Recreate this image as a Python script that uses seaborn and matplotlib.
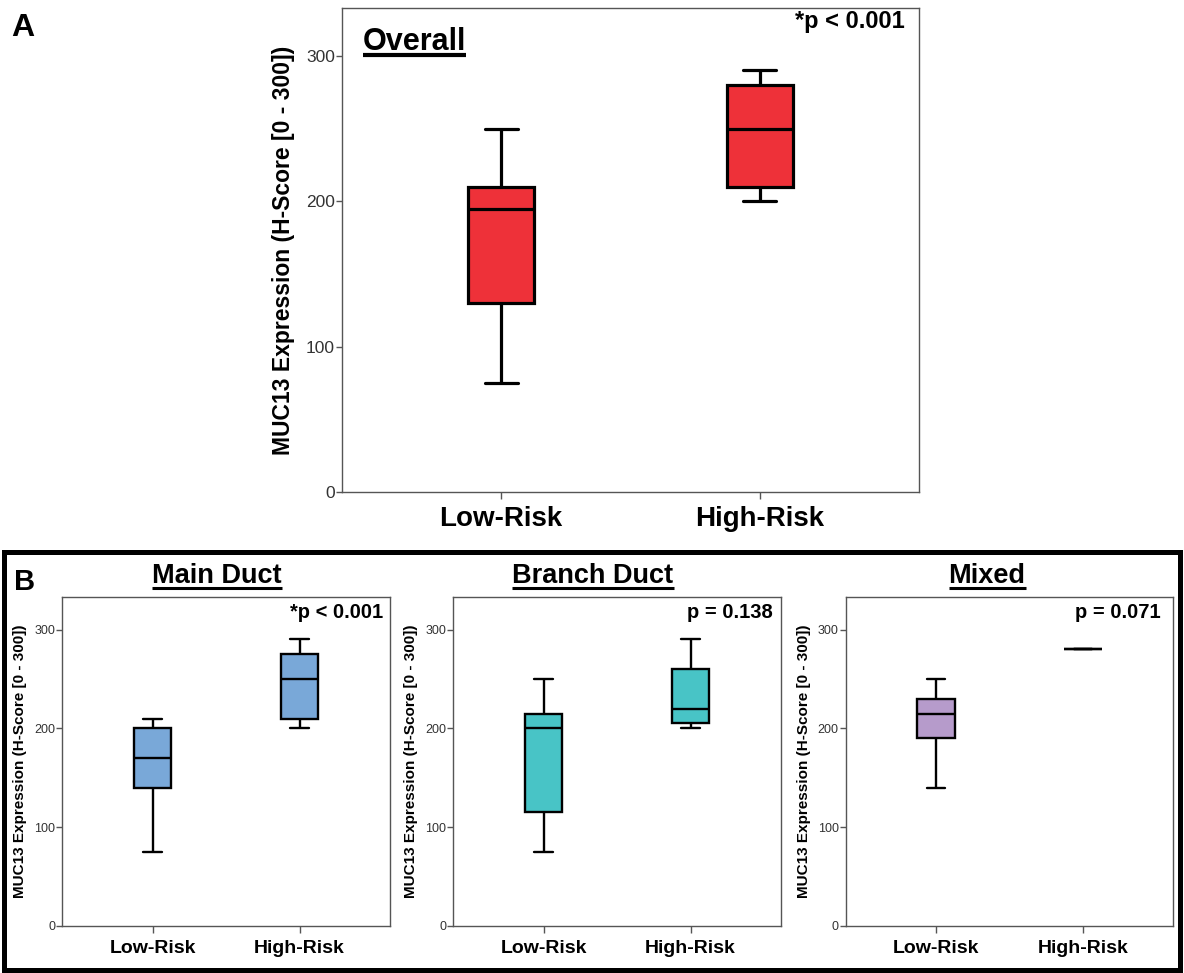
import numpy as np
import pandas as pd
import matplotlib
matplotlib.use("Agg")
import matplotlib.pyplot as plt
from matplotlib.lines import Line2D
from matplotlib.patches import Rectangle
import seaborn as sns

# ---------------- data (five-number summaries) ----------------
categories = ["Low-Risk", "High-Risk"]

overall_low = [75, 130, 195, 210, 250]
overall_high = [200, 210, 250, 280, 290]

main_low = [75, 140, 170, 200, 210]
main_high = [200, 210, 250, 275, 290]

branch_low = [75, 115, 200, 215, 250]
branch_high = [200, 205, 220, 260, 290]

mixed_low = [140, 190, 215, 230, 250]
mixed_high = [280, 280, 280, 280, 280]

panel_titles = ["Main Duct", "Branch Duct", "Mixed"]
p_overall = "*p < 0.001"
p_texts = ["*p < 0.001", "p = 0.138", "p = 0.071"]
yticks = [0, 100, 200, 300]
ylabel = "MUC13 Expression (H-Score [0 - 300])"

colors = {"overall": "#EE3139", "main": "#79A8D8", "branch": "#48C4C6", "mixed": "#B69BCB"}

# ---------------- style ----------------
sns.set_style("white")
plt.rcParams["font.family"] = ["Liberation Sans", "DejaVu Sans"]
plt.rcParams["text.color"] = "black"
plt.rcParams["axes.labelcolor"] = "black"

W, H = 1184, 973
fig = plt.figure(figsize=(W / 100, H / 100), dpi=100)


def px_rect(l, r, t, b):
    return [l / W, 1 - b / H, (r - l) / W, (b - t) / H]


def make_df(low, high):
    return pd.DataFrame({
        "risk": [categories[0]] * len(low) + [categories[1]] * len(high),
        "score": list(low) + list(high),
    })


def draw_box(ax, low, high, color, lw, tick_fs, xt_fs, yl_fs, labelpad):
    df = make_df(low, high)
    sns.boxplot(data=df, x="risk", y="score", order=categories, color=color,
                saturation=1, width=0.255, whis=(0, 100), linewidth=lw,
                linecolor="black", fliersize=0, ax=ax)
    ax.set_xlim(-0.614, 1.614)
    ax.set_ylim(0, 333)
    ax.set_yticks(yticks)
    ax.set_xlabel("")
    ax.set_ylabel(ylabel, fontsize=yl_fs, fontweight="bold", labelpad=labelpad,
                  color="black")
    for sp in ax.spines.values():
        sp.set_visible(True)
        sp.set_color("#555555")
        sp.set_linewidth(1.0)
    ax.tick_params(axis="y", direction="out", length=4, width=1, color="#555555",
                   labelsize=tick_fs, labelcolor="#333333", pad=1, left=True)
    ax.tick_params(axis="x", direction="out", length=5, width=1, color="#555555",
                   labelsize=xt_fs, labelcolor="black", pad=5, bottom=True)
    for lab in ax.get_xticklabels():
        lab.set_fontweight("bold")


# ---------------- Panel A ----------------
axA = fig.add_axes(px_rect(342, 919, 8, 492))
draw_box(axA, overall_low, overall_high, colors["overall"], 2.3, 12.5, 20, 16.5, 8)

# ---------------- Panel B ----------------
b_lefts = [62.3, 453.3, 845.7]
b_width = 327.6
b_data = [(main_low, main_high, colors["main"]),
          (branch_low, branch_high, colors["branch"]),
          (mixed_low, mixed_high, colors["mixed"])]
axesB = []
for left, (lo, hi, c) in zip(b_lefts, b_data):
    ax = fig.add_axes(px_rect(left, left + b_width, 597, 926))
    draw_box(ax, lo, hi, c, 1.7, 9, 14, 11, 5)
    axesB.append(ax)

# border around panel B
fig.add_artist(Rectangle((3.5 / W, 1 - 970 / H), (1180 - 3.5) / W, (970 - 552) / H,
                         transform=fig.transFigure, fill=False, edgecolor="black",
                         linewidth=3.6))

# panel letters
fig.text(11 / W, 1 - 36 / H, "A", fontsize=23, fontweight="bold", ha="left", va="baseline",
         color="black")
fig.text(14 / W, 1 - 590 / H, "B", fontsize=21, fontweight="bold", ha="left", va="baseline",
         color="black")

# titles
titles = []
titles.append((fig.text(363 / W, 1 - 50 / H, "Overall", fontsize=22, fontweight="bold",
                        ha="left", va="baseline", color="black"), 3.0))
for xc, t in zip([217, 593, 987], panel_titles):
    titles.append((fig.text(xc / W, 1 - 583 / H, t, fontsize=19.5, fontweight="bold",
                            ha="center", va="baseline", color="black"), 2.2))

# p-values
fig.text(905 / W, 1 - 28 / H, p_overall, fontsize=17, fontweight="bold", ha="right",
         va="baseline", color="black")
for xr, t in zip([383, 773, 1161], p_texts):
    fig.text(xr / W, 1 - 618 / H, t, fontsize=14.5, fontweight="bold", ha="right",
             va="baseline", color="black")

# underline titles
fig.canvas.draw()
renderer = fig.canvas.get_renderer()
inv = fig.transFigure.inverted()
for t, lw in titles:
    bb = t.get_window_extent(renderer).transformed(inv)
    x0, x1 = bb.x0, bb.x1
    yb = t.get_position()[1] - 5 / H
    fig.add_artist(Line2D([x0, x1], [yb, yb], transform=fig.transFigure,
                          color="black", linewidth=lw, solid_capstyle="butt"))

fig.savefig("out.png", dpi=100)
